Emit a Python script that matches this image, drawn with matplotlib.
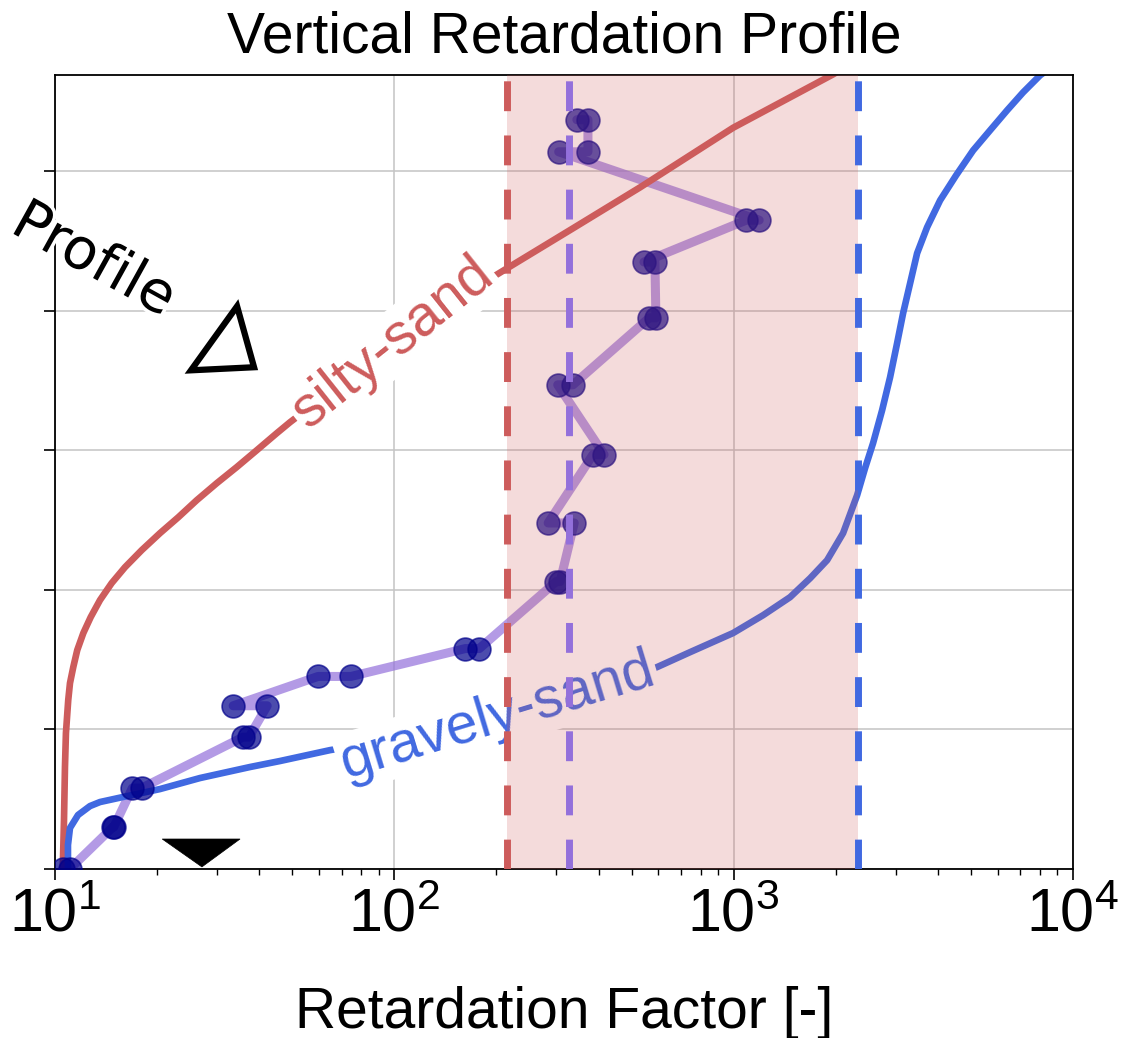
import matplotlib
matplotlib.use('Agg')
import matplotlib.pyplot as plt
import matplotlib.patheffects as pe
from matplotlib.patches import Polygon
from matplotlib import font_manager

installed = {f.name for f in font_manager.fontManager.ttflist}
narrow = 'Liberation Sans Narrow' if 'Liberation Sans Narrow' in installed else 'Liberation Sans'

plt.rcParams['font.family'] = ['Liberation Sans', 'DejaVu Sans']
plt.rcParams['mathtext.fontset'] = 'custom'
plt.rcParams['mathtext.rm'] = narrow
plt.rcParams['mathtext.it'] = narrow + ':italic'
plt.rcParams['mathtext.bf'] = narrow + ':bold'

# measured retardation factors, two samples per depth (line runs first -> second)
depth = [0.0, 0.30, 0.58, 0.945, 1.17, 1.38, 1.58, 2.06, 2.48, 2.97, 3.47, 3.95, 4.35, 4.65, 5.14, 5.37]
rf_first = [10.55, 14.8, 16.9, 35.8, 42.2, 59.6, 162, 300, 339, 385, 303, 564, 586, 1089, 305, 372]
rf_second = [11.05, 14.9, 18.0, 37.3, 33.5, 74.5, 178, 308, 284, 415, 336, 590, 544, 1189, 372, 345]

# model profiles
silty_h = [0.0, 0.351, 0.731, 0.974, 1.211, 1.332, 1.447, 1.569, 1.691, 1.805, 1.927, 2.049,
           2.163, 2.285, 2.407, 2.521, 2.643, 2.765, 2.880, 3.001, 3.123, 3.202, 3.503,
           3.804, 4.076, 4.305, 4.592, 4.885, 5.312, 5.695, 5.766]
silty_rf = [10.54, 10.63, 10.70, 10.77, 10.94, 11.07, 11.32, 11.63, 12.12, 12.74, 13.57, 14.69,
            16.08, 18.01, 20.39, 23.09, 26.16, 29.97, 34.31, 39.31, 45.02, 49.28, 71.55,
            103.9, 151.0, 214.9, 336.3, 529.8, 995.9, 1963, 2203]

gravel_h = [0.0, 0.172, 0.294, 0.387, 0.451, 0.480, 0.516, 0.573, 0.652, 0.731, 0.774, 0.852,
            0.960, 1.082, 1.239, 1.447, 1.554, 1.691, 1.819, 1.948, 2.084, 2.213, 2.407,
            2.679, 2.873, 3.052, 3.288, 3.524, 3.768, 3.983, 4.198, 4.413, 4.599, 4.792,
            4.970, 5.150, 5.294, 5.437, 5.566, 5.688, 5.795]
gravel_rf = [10.92, 10.92, 11.07, 11.69, 12.68, 13.57, 15.86, 20.39, 26.75, 37.56, 46.04, 64.65,
             119.0, 204.9, 352.6, 594.6, 743.8, 995.9, 1221, 1466, 1680, 1885, 2101,
             2311, 2439, 2575, 2738, 2890, 3031, 3157, 3311, 3472, 3715, 4058,
             4520, 5077, 5697, 6393, 7128, 7998, 9163]

silty_mean = 215
sample_mean = 327
gravel_mean = 2327

# annotation symbols
profile_tri_rf = [34.4, 25.16, 38.6]
profile_tri_h = [4.033, 3.574, 3.596]
water_tri_rf = [27.1, 20.7, 35.1]
water_tri_h = [0.015, 0.215, 0.215]

xticks = [10, 100, 1000, 10000]
xticklabels = ['$10^{1}$', '$10^{2}$', '$10^{3}$', '$10^{4}$']
yticks = [0, 1, 2, 3, 4, 5]

fig = plt.figure(figsize=(11.27, 10.38), dpi=100)
ax = fig.add_axes([0.0488, 0.1628, 0.9033, 0.7649])
ax.set_xscale('log')
ax.set_xlim(10, 10000)
ax.set_ylim(0, 5.69)

line_rf, line_h = [], []
for h, a, b in zip(depth, rf_first, rf_second):
    line_rf += [a, b]
    line_h += [h, h]
ax.plot(line_rf, line_h, color='mediumpurple', alpha=0.7, lw=6.5, zorder=2,
        solid_capstyle='round', solid_joinstyle='round')
ax.scatter(rf_first + rf_second, depth + depth, s=270, c='darkblue', alpha=0.7,
           edgecolors='darkblue', linewidths=1.2, zorder=3)

ax.plot(silty_rf, silty_h, color='indianred', lw=4.8, zorder=2.5, solid_joinstyle='round')
ax.plot(gravel_rf, gravel_h, color='royalblue', lw=4.8, zorder=2.5, solid_joinstyle='round')

box = dict(boxstyle='square,pad=0.05', fc='white', ec='none')
ax.text(99.1, 3.768, 'silty-sand', color='indianred', fontsize=41, rotation=38.5,
        ha='center', va='center', rotation_mode='anchor', bbox=box, zorder=3.5)
ax.text(201, 1.09, 'gravely-sand', color='royalblue', fontsize=41, rotation=17,
        ha='center', va='center', rotation_mode='anchor', bbox=box, zorder=3.5)

ax.axvspan(silty_mean, gravel_mean, color='indianred', alpha=0.22, lw=0, zorder=4)
dash = (4.3, 3.5)
ax.axvline(silty_mean, color='indianred', lw=5, dashes=dash, zorder=5)
ax.axvline(sample_mean, color='mediumpurple', lw=5, dashes=dash, zorder=5)
ax.axvline(gravel_mean, color='royalblue', lw=5, dashes=dash, zorder=5)

ax.add_patch(Polygon(list(zip(profile_tri_rf, profile_tri_h)), closed=True, fill=False,
                     ec='black', lw=4.5, joinstyle='miter', zorder=6))
ax.add_patch(Polygon(list(zip(water_tri_rf, water_tri_h)), closed=True, fc='black',
                     ec='black', lw=0.5, zorder=6))
ax.text(13.0, 4.36, 'Profile', fontsize=41, family='DejaVu Sans', rotation=-29,
        ha='center', va='center', rotation_mode='anchor', clip_on=False, zorder=6,
        path_effects=[pe.withStroke(linewidth=5, foreground='white')])

ax.grid(True, which='major', color='#c4c4c4', lw=1.1)
ax.set_xticks(xticks)
ax.set_xticklabels(xticklabels)
ax.set_yticks(yticks)
ax.set_yticklabels([])
ax.tick_params(axis='x', which='major', labelsize=44, length=8, width=1.2, pad=5)
ax.tick_params(axis='x', which='minor', length=4.5, width=1)
ax.tick_params(axis='y', length=8, width=1.2)
for s in ax.spines.values():
    s.set_linewidth(1.3)

ax.set_title('Vertical Retardation Profile', fontsize=41, pad=16)
ax.set_xlabel('Retardation Factor [-]', fontsize=41, labelpad=30)

fig.savefig('out.png', dpi=100)
